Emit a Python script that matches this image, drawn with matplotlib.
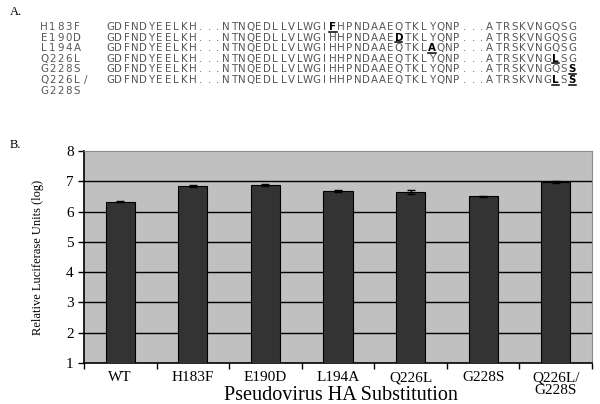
import numpy as np
import matplotlib.pyplot as plt
from matplotlib.lines import Line2D
from matplotlib.ticker import FixedLocator

# data for panel B
substitutions = ["WT", "H183F", "E190D", "L194A", "Q226L", "G228S", "Q226L/\nG228S"]
rlu_log = [6.33, 6.85, 6.88, 6.68, 6.65, 6.50, 6.98]
rlu_err = [0.03, 0.03, 0.04, 0.03, 0.07, 0.03, 0.03]

# data for panel A (alignment)
seq_names = ["H183F", "E190D", "L194A", "Q226L", "G228S", "Q226L/", "G228S"]
wt_seq = "GDFNDYEELKH...NTNQEDLLVLWGIHHPNDAAEQTKLYQNP...ATRSKVNGQSG"
mut_pos = [[27], [35], [39], [54], [56], [54, 56]]
mut_res = [["F"], ["D"], ["A"], ["L"], ["S"], ["L", "S"]]

W, H = 600, 404
fig = plt.figure(figsize=(6, 4.04), dpi=100)

def px(x, y):
    return x / W, 1 - y / H

def spaced(text, x, y, color="#555555", weight="normal"):
    # draw characters one by one on a fixed pitch
    for i, ch in enumerate(text):
        if ch != " ":
            fig.text(*px(x + (i + 0.5) * cw, y), ch, family=seqfont, fontsize=fs,
                     color=color, weight=weight, ha="center", va="center")

# ---- panel A ----
fig.text(*px(10, 12), "A.", family="Liberation Serif", fontsize=9, va="center")
seqfont = "DejaVu Sans"
fs = 7.4
cw = 8.25  # pitch in px
x0 = 106
row_y = [27, 37.6, 48.2, 58.8, 69.4, 80, 90.6]
for r, name in enumerate(seq_names):
    y = row_y[r]
    spaced(name, 40, y)
    if r >= len(mut_pos):
        continue
    s = list(wt_seq)
    for p in mut_pos[r]:
        s[p] = " "
    spaced("".join(s), x0, y)
    for p, aa in zip(mut_pos[r], mut_res[r]):
        spaced(aa, x0 + p * cw, y, color="black", weight="bold")
        xa, ya = px(x0 + p * cw + 0.5, y + 4.6)
        xb, _ = px(x0 + (p + 1) * cw - 0.5, y + 4.6)
        fig.add_artist(Line2D([xa, xb], [ya, ya], color="black", lw=1.1))

# ---- panel B ----
fig.text(*px(10, 145), "B.", family="Liberation Serif", fontsize=9, va="center")
ax = fig.add_axes([84 / W, 1 - 363 / H, 508 / W, 212 / H])
ax.set_facecolor("#c0c0c0")
xpos = np.arange(len(substitutions))
ax.bar(xpos, rlu_log, width=0.4, color="#333333", edgecolor="black", lw=0.8,
       yerr=rlu_err, capsize=3, error_kw=dict(ecolor="black", lw=1), zorder=3)
ax.set_xlim(-0.5, len(substitutions) - 0.5)
ax.set_ylim(1, 8)
ax.set_yticks(range(1, 9))
for v in range(2, 8):
    ax.axhline(v, color="black", lw=1, zorder=1)

ax.set_xticks(xpos)
ax.set_xticklabels(substitutions, family="Liberation Serif", fontsize=11, linespacing=1.0)
ax.tick_params(axis="x", which="major", length=0, pad=6)
ax.xaxis.set_minor_locator(FixedLocator(np.arange(-0.5, len(substitutions), 1.0)))
ax.tick_params(axis="x", which="minor", length=4, width=1, direction="out")
ax.tick_params(axis="y", length=4, width=1, direction="out", labelsize=11)
for lab in ax.get_yticklabels():
    lab.set_family("Liberation Serif")

for side in ["top", "right"]:
    ax.spines[side].set_color("#8a8a8a")
ax.spines["left"].set_linewidth(1.2)
ax.spines["bottom"].set_linewidth(1.2)

ax.set_ylabel("Relative Luciferase Units (log)", family="Liberation Serif", fontsize=9)
ax.yaxis.set_label_coords(-0.078, 0.5)
ax.set_xlabel("Pseudovirus HA Substitution", family="Liberation Serif", fontsize=14.5)
ax.xaxis.set_label_coords(0.505, -0.108)

fig.savefig("out.png", dpi=100)
